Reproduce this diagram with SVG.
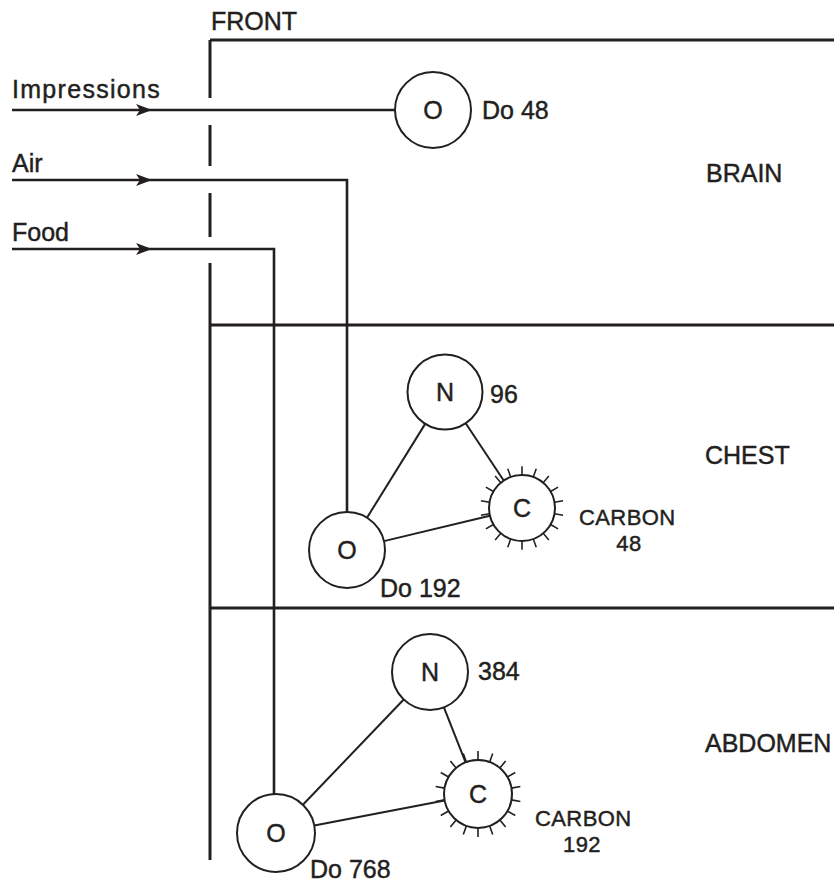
<svg xmlns="http://www.w3.org/2000/svg" xmlns:xlink="http://www.w3.org/1999/xlink" width="834" height="890" viewBox="0 0 834 890">
<style>
text{font-family:"Liberation Sans",Arial,Helvetica,sans-serif;fill:#231f20;stroke:#231f20;stroke-width:0.45;font-size:25px}
.lbl{font-size:22px;letter-spacing:0.4px}
.wide{letter-spacing:1.3px}
.frame{fill:none;stroke:#231f20;stroke-width:3}
.feed{fill:none;stroke:#231f20;stroke-width:2.6}
.edge{fill:none;stroke:#231f20;stroke-width:2}
.node{fill:#fff;stroke:#231f20;stroke-width:2}
.tick{fill:none;stroke:#231f20;stroke-width:1.6}
.ctr{text-anchor:middle}
.arrow{fill:#231f20}
</style>
<defs>
<path id="ticks" class="tick" d="M0,34L0,43M-11.63,31.95L-14.71,40.41M-21.86,26.05L-27.64,32.94M-29.44,17L-37.24,21.5M-33.48,5.9L-42.35,7.47M-33.48,-5.9L-42.35,-7.47M-29.44,-17L-37.24,-21.5M-21.86,-26.05L-27.64,-32.94M-11.63,-31.95L-14.71,-40.41M0,-34L0,-43M11.63,-31.95L14.71,-40.41M21.86,-26.05L27.64,-32.94M29.44,-17L37.24,-21.5M33.48,-5.9L42.35,-7.47M33.48,5.9L42.35,7.47M29.44,17L37.24,21.5M21.86,26.05L27.64,32.94M11.63,31.95L14.71,40.41"/>
<path id="ah" class="arrow" d="M0,0L-16,-6L-12,0L-16,6Z"/>
</defs>

<g id="frame">
<path class="frame" d="M210,40V98M210,125V166M210,193V237M210,263V860M210,40H834M210,325H834M210,608H834"/>
<text x="211" y="30">FRONT</text>
<text x="706" y="182">BRAIN</text>
<text x="705" y="464">CHEST</text>
<text x="705" y="752">ABDOMEN</text>
</g>

<g id="connectors">
<path class="feed" d="M12,110H395"/>
<path class="feed" d="M12,180H347V512"/>
<path class="feed" d="M12,249H274V794"/>
<use xlink:href="#ah" href="#ah" x="152" y="110"/>
<use xlink:href="#ah" href="#ah" x="152" y="180"/>
<use xlink:href="#ah" href="#ah" x="152" y="249"/>
<line class="edge" x1="425.2" y1="423.9" x2="367" y2="517.7"/>
<line class="edge" x1="465.7" y1="423.2" x2="503.7" y2="480.5"/>
<line class="edge" x1="383.9" y1="541.1" x2="489.9" y2="515.7"/>
<line class="edge" x1="403.7" y1="699.5" x2="302.9" y2="804.8"/>
<line class="edge" x1="443.9" y1="707.4" x2="465.6" y2="762.4"/>
<line class="edge" x1="314.3" y1="825.6" x2="444.6" y2="800.4"/>
</g>

<g id="inputs">
<text class="wide" x="12" y="98">Impressions</text>
<text x="12" y="172">Air</text>
<text x="12" y="241">Food</text>
</g>

<g id="brain-o">
<circle class="node" cx="433" cy="110" r="38"/>
<text class="ctr" x="433" y="119">O</text>
<text x="482" y="119">Do 48</text>
</g>

<g id="chest-n">
<circle class="node" cx="445" cy="392" r="37.5"/>
<text class="ctr" x="445" y="401">N</text>
<text x="490" y="403">96</text>
</g>

<g id="chest-c">
<use xlink:href="#ticks" href="#ticks" transform="translate(522,508) scale(0.97)"/>
<circle class="node" cx="522" cy="508" r="33"/>
<text class="ctr" x="522" y="517">C</text>
<text class="lbl" x="579" y="525">CARBON</text>
<text class="lbl ctr" x="629" y="551">48</text>
</g>

<g id="chest-o">
<circle class="node" cx="347" cy="550" r="38"/>
<text class="ctr" x="347" y="559">O</text>
<text x="380" y="597">Do 192</text>
</g>

<g id="abdomen-n">
<circle class="node" cx="430" cy="672" r="38"/>
<text class="ctr" x="430" y="681">N</text>
<text x="478" y="680">384</text>
</g>

<g id="abdomen-c">
<use xlink:href="#ticks" href="#ticks" transform="translate(478,794)"/>
<circle class="node" cx="478" cy="794" r="34"/>
<text class="ctr" x="478" y="803">C</text>
<text class="lbl" x="535" y="826">CARBON</text>
<text class="lbl ctr" x="582" y="852">192</text>
</g>

<g id="abdomen-o">
<circle class="node" cx="276" cy="833" r="39"/>
<text class="ctr" x="276" y="842">O</text>
<text x="310" y="878">Do 768</text>
</g>
</svg>
